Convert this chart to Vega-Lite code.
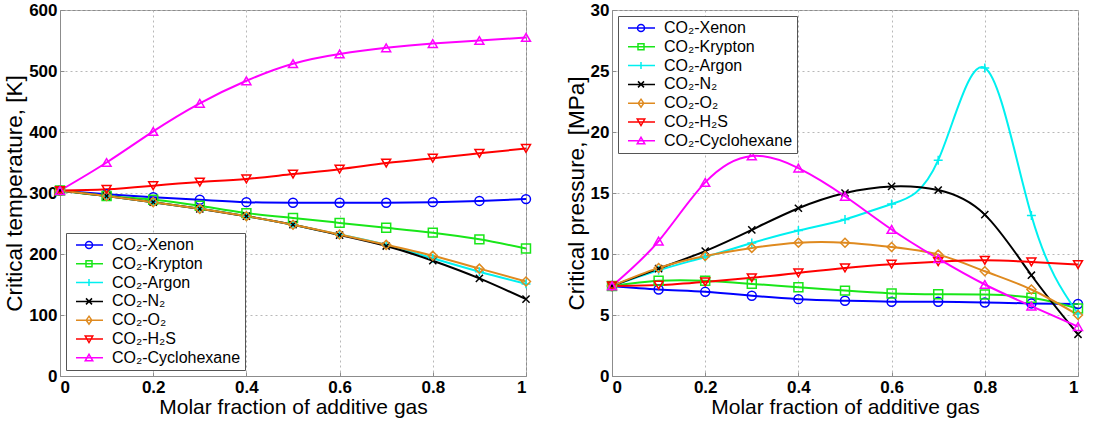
{
  "$schema": "https://vega.github.io/schema/vega-lite/v6.json",
  "padding": {"left": 3, "top": 0, "right": 0, "bottom": 0},
  "background": "white",
  "config": {
    "font": "Liberation Sans",
    "view": {"stroke": "#8c8c8c", "strokeWidth": 1},
    "concat": {"spacing": 30},
    "axis": {
      "domainColor": "#8c8c8c",
      "tickColor": "#8c8c8c",
      "tickSize": -4,
      "gridColor": "#b8b8b8",
      "gridDash": [2, 3],
      "gridWidth": 1,
      "labelFontSize": 17,
      "labelFontWeight": "bold",
      "labelColor": "#000000",
      "titleFontSize": 21,
      "titleFontWeight": "normal",
      "titleColor": "#000000"
    },
    "legend": {
      "title": null,
      "offset": 6,
      "padding": 4,
      "rowPadding": 2.8,
      "symbolSize": 100,
      "symbolStrokeWidth": 1.5,
      "symbolOpacity": 1,
      "labelFontSize": 16,
      "labelOffset": 26,
      "labelColor": "#000000",
      "fillColor": "#ffffff",
      "strokeColor": "#555555"
    }
  },
  "datasets": {
    "gas": [
      {"gas": "CO₂-Xenon", "x": 0, "T": 304, "P": 7.38},
      {"gas": "CO₂-Xenon", "x": 0.1, "T": 298, "P": 7.09},
      {"gas": "CO₂-Xenon", "x": 0.2, "T": 293, "P": 6.9},
      {"gas": "CO₂-Xenon", "x": 0.3, "T": 289, "P": 6.58},
      {"gas": "CO₂-Xenon", "x": 0.4, "T": 285, "P": 6.3},
      {"gas": "CO₂-Xenon", "x": 0.5, "T": 284, "P": 6.17},
      {"gas": "CO₂-Xenon", "x": 0.6, "T": 284, "P": 6.09},
      {"gas": "CO₂-Xenon", "x": 0.7, "T": 284, "P": 6.09},
      {"gas": "CO₂-Xenon", "x": 0.8, "T": 285, "P": 6.03},
      {"gas": "CO₂-Xenon", "x": 0.9, "T": 287, "P": 5.95},
      {"gas": "CO₂-Xenon", "x": 1, "T": 290, "P": 5.9},
      {"gas": "CO₂-Krypton", "x": 0, "T": 304, "P": 7.38},
      {"gas": "CO₂-Krypton", "x": 0.1, "T": 295, "P": 7.8},
      {"gas": "CO₂-Krypton", "x": 0.2, "T": 289, "P": 7.8},
      {"gas": "CO₂-Krypton", "x": 0.3, "T": 279, "P": 7.55},
      {"gas": "CO₂-Krypton", "x": 0.4, "T": 267, "P": 7.28},
      {"gas": "CO₂-Krypton", "x": 0.5, "T": 259, "P": 7.0},
      {"gas": "CO₂-Krypton", "x": 0.6, "T": 251, "P": 6.77},
      {"gas": "CO₂-Krypton", "x": 0.7, "T": 243, "P": 6.7},
      {"gas": "CO₂-Krypton", "x": 0.8, "T": 235, "P": 6.68},
      {"gas": "CO₂-Krypton", "x": 0.9, "T": 224, "P": 6.41},
      {"gas": "CO₂-Krypton", "x": 1, "T": 209, "P": 5.54},
      {"gas": "CO₂-Argon", "x": 0, "T": 304, "P": 7.38},
      {"gas": "CO₂-Argon", "x": 0.1, "T": 295, "P": 8.67},
      {"gas": "CO₂-Argon", "x": 0.2, "T": 285, "P": 9.76},
      {"gas": "CO₂-Argon", "x": 0.3, "T": 274, "P": 10.9},
      {"gas": "CO₂-Argon", "x": 0.4, "T": 262, "P": 11.93},
      {"gas": "CO₂-Argon", "x": 0.5, "T": 248, "P": 12.83},
      {"gas": "CO₂-Argon", "x": 0.6, "T": 232, "P": 14.1},
      {"gas": "CO₂-Argon", "x": 0.7, "T": 215, "P": 17.69},
      {"gas": "CO₂-Argon", "x": 0.8, "T": 193, "P": 25.25},
      {"gas": "CO₂-Argon", "x": 0.9, "T": 171, "P": 13.15},
      {"gas": "CO₂-Argon", "x": 1, "T": 151, "P": 5.1},
      {"gas": "CO₂-N₂", "x": 0, "T": 304, "P": 7.38},
      {"gas": "CO₂-N₂", "x": 0.1, "T": 295, "P": 8.8},
      {"gas": "CO₂-N₂", "x": 0.2, "T": 285, "P": 10.24},
      {"gas": "CO₂-N₂", "x": 0.3, "T": 274, "P": 11.98},
      {"gas": "CO₂-N₂", "x": 0.4, "T": 262, "P": 13.75},
      {"gas": "CO₂-N₂", "x": 0.5, "T": 248, "P": 15.0},
      {"gas": "CO₂-N₂", "x": 0.6, "T": 231, "P": 15.54},
      {"gas": "CO₂-N₂", "x": 0.7, "T": 213, "P": 15.24},
      {"gas": "CO₂-N₂", "x": 0.8, "T": 189, "P": 13.23},
      {"gas": "CO₂-N₂", "x": 0.9, "T": 160, "P": 8.26},
      {"gas": "CO₂-N₂", "x": 1, "T": 126, "P": 3.42},
      {"gas": "CO₂-O₂", "x": 0, "T": 304, "P": 7.38},
      {"gas": "CO₂-O₂", "x": 0.1, "T": 295, "P": 8.86},
      {"gas": "CO₂-O₂", "x": 0.2, "T": 285, "P": 9.84},
      {"gas": "CO₂-O₂", "x": 0.3, "T": 274, "P": 10.5},
      {"gas": "CO₂-O₂", "x": 0.4, "T": 262, "P": 10.92},
      {"gas": "CO₂-O₂", "x": 0.5, "T": 248, "P": 10.92},
      {"gas": "CO₂-O₂", "x": 0.6, "T": 232, "P": 10.57},
      {"gas": "CO₂-O₂", "x": 0.7, "T": 215, "P": 9.95},
      {"gas": "CO₂-O₂", "x": 0.8, "T": 197, "P": 8.59},
      {"gas": "CO₂-O₂", "x": 0.9, "T": 176, "P": 7.09},
      {"gas": "CO₂-O₂", "x": 1, "T": 155, "P": 5.0},
      {"gas": "CO₂-H₂S", "x": 0, "T": 304, "P": 7.38},
      {"gas": "CO₂-H₂S", "x": 0.1, "T": 306, "P": 7.45},
      {"gas": "CO₂-H₂S", "x": 0.2, "T": 312, "P": 7.72},
      {"gas": "CO₂-H₂S", "x": 0.3, "T": 318, "P": 8.05},
      {"gas": "CO₂-H₂S", "x": 0.4, "T": 323, "P": 8.45},
      {"gas": "CO₂-H₂S", "x": 0.5, "T": 331, "P": 8.86},
      {"gas": "CO₂-H₂S", "x": 0.6, "T": 339, "P": 9.16},
      {"gas": "CO₂-H₂S", "x": 0.7, "T": 349, "P": 9.37},
      {"gas": "CO₂-H₂S", "x": 0.8, "T": 357, "P": 9.48},
      {"gas": "CO₂-H₂S", "x": 0.9, "T": 365, "P": 9.35},
      {"gas": "CO₂-H₂S", "x": 1, "T": 373, "P": 9.13},
      {"gas": "CO₂-Cyclohexane", "x": 0, "T": 304, "P": 7.38},
      {"gas": "CO₂-Cyclohexane", "x": 0.1, "T": 350, "P": 11.06},
      {"gas": "CO₂-Cyclohexane", "x": 0.2, "T": 401, "P": 15.87},
      {"gas": "CO₂-Cyclohexane", "x": 0.3, "T": 447, "P": 18.04},
      {"gas": "CO₂-Cyclohexane", "x": 0.4, "T": 484, "P": 17.04},
      {"gas": "CO₂-Cyclohexane", "x": 0.5, "T": 512, "P": 14.73},
      {"gas": "CO₂-Cyclohexane", "x": 0.6, "T": 528, "P": 12.01},
      {"gas": "CO₂-Cyclohexane", "x": 0.7, "T": 538, "P": 9.62},
      {"gas": "CO₂-Cyclohexane", "x": 0.8, "T": 545, "P": 7.5},
      {"gas": "CO₂-Cyclohexane", "x": 0.9, "T": 550, "P": 5.73},
      {"gas": "CO₂-Cyclohexane", "x": 1, "T": 555, "P": 4.05}
    ]
  },
  "resolve": {"legend": {"color": "independent", "shape": "independent"}},
  "hconcat": [
    {
      "width": 466,
      "height": 366,
      "data": {"name": "gas"},
      "encoding": {
        "x": {"field": "x", "type": "quantitative", "scale": {"domain": [0, 1], "nice": false},
              "axis": {"values": [0, 0.2, 0.4, 0.6, 0.8, 1], "format": "~g", "title": "Molar fraction of additive gas", "labelPadding": 7, "titlePadding": 1}},
        "y": {"field": "T", "type": "quantitative", "scale": {"domain": [0, 600], "nice": false},
              "axis": {"values": [0, 100, 200, 300, 400, 500, 600], "title": "Critical temperature, [K]", "titleFontSize": 22.5, "labelPadding": 7, "titlePadding": 2}},
        "color": {"field": "gas", "type": "nominal",
          "scale": {"domain": ["CO₂-Xenon", "CO₂-Krypton", "CO₂-Argon", "CO₂-N₂", "CO₂-O₂", "CO₂-H₂S", "CO₂-Cyclohexane"],
                    "range": ["#0000ff", "#19e619", "#00f0f0", "#000000", "#df8a1f", "#ff0000", "#ff00ff"]},
          "legend": {"orient": "bottom-left"}}
      },
      "layer": [
        {"mark": {"type": "line", "interpolate": "natural", "strokeWidth": 2}},
        {
          "mark": {"type": "point", "filled": false, "size": 80, "strokeWidth": 1.5, "opacity": 1,
                   "shape": {"expr": "datum.gas === 'CO₂-Xenon' ? 'circle' : datum.gas === 'CO₂-Krypton' ? 'square' : datum.gas === 'CO₂-Argon' ? 'M-1,0L1,0M0,-1L0,1' : datum.gas === 'CO₂-N₂' ? 'M-0.8,-0.8L0.8,0.8M-0.8,0.8L0.8,-0.8' : datum.gas === 'CO₂-O₂' ? 'diamond' : datum.gas === 'CO₂-H₂S' ? 'triangle-down' : 'triangle-up'"}}
        },
        {
          "transform": [{"filter": {"field": "x", "equal": 0}}],
          "mark": {"type": "point", "filled": false, "size": 80, "opacity": 0},
          "encoding": {
            "shape": {"field": "gas", "type": "nominal",
              "scale": {"domain": ["CO₂-Xenon", "CO₂-Krypton", "CO₂-Argon", "CO₂-N₂", "CO₂-O₂", "CO₂-H₂S", "CO₂-Cyclohexane"],
                        "range": ["M-0.4,0L5,0M1.5,0A0.7,0.7 0 1,0 2.9,0A0.7,0.7 0 1,0 1.5,0", "M-0.4,0L5,0M1.6,-0.6L2.8,-0.6L2.8,0.6L1.6,0.6Z", "M-0.4,0L5,0M2.2,-0.7L2.2,0.7", "M-0.4,0L5,0M1.6,-0.6L2.8,0.6M1.6,0.6L2.8,-0.6", "M-0.4,0L5,0M2.2,-0.8L2.75,0L2.2,0.8L1.65,0Z", "M-0.4,0L5,0M1.45,-0.6L2.95,-0.6L2.2,0.7Z", "M-0.4,0L5,0M1.45,0.6L2.95,0.6L2.2,-0.7Z"]},
              "legend": {"orient": "bottom-left"}}
          }
        }
      ]
    },
    {
      "width": 466,
      "height": 366,
      "data": {"name": "gas"},
      "encoding": {
        "x": {"field": "x", "type": "quantitative", "scale": {"domain": [0, 1], "nice": false},
              "axis": {"values": [0, 0.2, 0.4, 0.6, 0.8, 1], "format": "~g", "title": "Molar fraction of additive gas", "labelPadding": 7, "titlePadding": 1}},
        "y": {"field": "P", "type": "quantitative", "scale": {"domain": [0, 30], "nice": false},
              "axis": {"values": [0, 5, 10, 15, 20, 25, 30], "title": "Critical pressure, [MPa]", "titleFontSize": 22.5, "labelPadding": 7, "titlePadding": 2}},
        "color": {"field": "gas", "type": "nominal",
          "scale": {"domain": ["CO₂-Xenon", "CO₂-Krypton", "CO₂-Argon", "CO₂-N₂", "CO₂-O₂", "CO₂-H₂S", "CO₂-Cyclohexane"],
                    "range": ["#0000ff", "#19e619", "#00f0f0", "#000000", "#df8a1f", "#ff0000", "#ff00ff"]},
          "legend": {"orient": "top-left"}}
      },
      "layer": [
        {"mark": {"type": "line", "interpolate": "natural", "strokeWidth": 2}},
        {
          "mark": {"type": "point", "filled": false, "size": 80, "strokeWidth": 1.5, "opacity": 1,
                   "shape": {"expr": "datum.gas === 'CO₂-Xenon' ? 'circle' : datum.gas === 'CO₂-Krypton' ? 'square' : datum.gas === 'CO₂-Argon' ? 'M-1,0L1,0M0,-1L0,1' : datum.gas === 'CO₂-N₂' ? 'M-0.8,-0.8L0.8,0.8M-0.8,0.8L0.8,-0.8' : datum.gas === 'CO₂-O₂' ? 'diamond' : datum.gas === 'CO₂-H₂S' ? 'triangle-down' : 'triangle-up'"}}
        },
        {
          "transform": [{"filter": {"field": "x", "equal": 0}}],
          "mark": {"type": "point", "filled": false, "size": 80, "opacity": 0},
          "encoding": {
            "shape": {"field": "gas", "type": "nominal",
              "scale": {"domain": ["CO₂-Xenon", "CO₂-Krypton", "CO₂-Argon", "CO₂-N₂", "CO₂-O₂", "CO₂-H₂S", "CO₂-Cyclohexane"],
                        "range": ["M-0.4,0L5,0M1.5,0A0.7,0.7 0 1,0 2.9,0A0.7,0.7 0 1,0 1.5,0", "M-0.4,0L5,0M1.6,-0.6L2.8,-0.6L2.8,0.6L1.6,0.6Z", "M-0.4,0L5,0M2.2,-0.7L2.2,0.7", "M-0.4,0L5,0M1.6,-0.6L2.8,0.6M1.6,0.6L2.8,-0.6", "M-0.4,0L5,0M2.2,-0.8L2.75,0L2.2,0.8L1.65,0Z", "M-0.4,0L5,0M1.45,-0.6L2.95,-0.6L2.2,0.7Z", "M-0.4,0L5,0M1.45,0.6L2.95,0.6L2.2,-0.7Z"]},
              "legend": {"orient": "top-left"}}
          }
        }
      ]
    }
  ]
}
